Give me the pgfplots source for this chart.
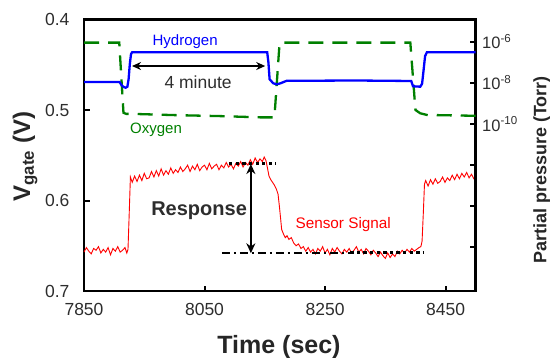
\documentclass[border=0pt]{standalone}
\usepackage{pgfplots}
\pgfplotsset{compat=1.18}
\usepackage{fontspec}
\setmainfont{Liberation Sans}
\usetikzlibrary{arrows.meta}
\definecolor{hblue}{RGB}{0,0,255}
\definecolor{ogreen}{RGB}{0,128,0}
\definecolor{sred}{RGB}{255,0,0}
\definecolor{tt}{RGB}{45,45,45}
\begin{document}
\begin{tikzpicture}
\useasboundingbox (0,0) rectangle (554pt,358pt);
\begin{axis}[
  at={(84pt,67pt)}, anchor=south west,
  scale only axis, width=391.7pt, height=271.5pt,
  xmin=7850, xmax=8500, ymin=0.4, ymax=0.7, y dir=reverse,
  xtick={7850,8050,8250,8450}, ytick={0.4,0.5,0.6,0.7},
  xtick pos=bottom, ytick pos=left, tick align=inside,
  major tick length=5.5pt,
  every tick/.style={black, line width=2pt},
  axis line style={line width=2.7pt},
  /pgf/number format/1000 sep={},
  /pgf/number format/assume math mode=true,
  xticklabel style={font=\fontsize{17.5}{18}\selectfont, text=tt, yshift=-9pt},
  yticklabel style={font=\fontsize{17.5}{18}\selectfont, text=tt, xshift=-11pt,
    /pgf/number format/fixed, /pgf/number format/fixed zerofill, /pgf/number format/precision=1},
  xlabel={Time (sec)},
  every axis x label/.style={at={(axis description cs:0.4978,-0.2284)}, anchor=base,
    font=\fontsize{25}{26}\selectfont\bfseries, text=black!85},
  ylabel={V\textsubscript{gate} (V)},
  every axis y label/.style={at={(axis description cs:-0.1506,0.4954)}, rotate=90, anchor=center,
    font=\fontsize{24}{25}\selectfont\bfseries, text=black!85},
  clip=false,
]
\addplot[sred, line width=0.9pt] coordinates {
(7850,0.657) (7854,0.652) (7858,0.656) (7862,0.659) (7866,0.653) (7870,0.655) (7874,0.651) (7878,0.658)
(7882,0.654) (7886,0.657) (7890,0.652) (7894,0.660) (7898,0.653) (7902,0.656) (7906,0.651) (7910,0.657)
(7914,0.655) (7918,0.652) (7921,0.658) (7923,0.654) (7925,0.615) (7927,0.574)
(7930,0.580) (7934,0.573) (7938,0.579) (7942,0.572) (7946,0.578) (7950,0.570) (7954,0.576) (7958,0.575)
(7962,0.568) (7966,0.574) (7970,0.567) (7974,0.573) (7978,0.565) (7982,0.572) (7986,0.567) (7990,0.571)
(7994,0.564) (7998,0.570) (8002,0.566) (8006,0.569) (8010,0.563) (8014,0.568) (8018,0.565) (8022,0.561)
(8026,0.568) (8030,0.562) (8034,0.566) (8038,0.560) (8042,0.567) (8046,0.563) (8050,0.561) (8054,0.566)
(8058,0.559) (8062,0.565) (8066,0.562) (8070,0.560) (8074,0.566) (8078,0.561) (8082,0.564) (8086,0.558)
(8090,0.563) (8094,0.560) (8098,0.565) (8102,0.559) (8106,0.562) (8110,0.557) (8114,0.563) (8118,0.558)
(8122,0.561) (8126,0.555) (8130,0.560) (8134,0.553) (8138,0.558) (8142,0.554) (8146,0.557) (8149,0.552)
(8152,0.556) (8155,0.566) (8157,0.573) (8160,0.577) (8163,0.580) (8166,0.583) (8169,0.587) (8172,0.593)
(8174,0.605) (8176,0.618) (8178,0.632) (8181,0.637) (8184,0.641) (8187,0.639) (8190,0.643) (8194,0.641)
(8198,0.647) (8202,0.650) (8206,0.648) (8210,0.653) (8214,0.651)
(8218,0.656) (8222,0.652) (8226,0.657) (8230,0.654) (8234,0.659) (8238,0.653) (8242,0.656) (8246,0.651)
(8250,0.658) (8254,0.654) (8258,0.660) (8262,0.653) (8266,0.657) (8270,0.652) (8274,0.656) (8278,0.659)
(8282,0.654) (8286,0.657) (8290,0.653) (8294,0.658) (8298,0.655) (8302,0.651) (8306,0.657) (8310,0.654)
(8314,0.659) (8318,0.653) (8322,0.656) (8326,0.660) (8330,0.655) (8334,0.658) (8338,0.662) (8342,0.657)
(8346,0.661) (8350,0.664) (8354,0.658) (8358,0.663) (8362,0.659) (8366,0.662) (8370,0.656) (8374,0.659)
(8378,0.655) (8382,0.658) (8386,0.654) (8390,0.657) (8394,0.653) (8398,0.656) (8402,0.654) (8406,0.652)
(8409,0.651) (8411,0.645) (8413,0.615) (8415,0.582) (8417,0.578) (8421,0.584) (8425,0.577) (8429,0.582)
(8433,0.576) (8437,0.581) (8441,0.579) (8445,0.574) (8449,0.580) (8453,0.575) (8457,0.578) (8461,0.572)
(8465,0.577) (8469,0.571) (8473,0.576) (8477,0.570) (8481,0.574) (8485,0.569) (8489,0.575) (8493,0.571)
(8497,0.576) (8500,0.574)
};
% annotations
\draw[{Stealth[length=9pt,width=8pt]}-{Stealth[length=9pt,width=8pt]}, line width=1.8pt, black]
  (axis cs:7929.7,0.4514) -- (axis cs:8150.7,0.4514);
\node[font=\fontsize{17.5}{18}\selectfont, text=tt] at (axis cs:8039.4,0.4691) {4 minute};
\node[font=\fontsize{15}{16}\selectfont, text=hblue] at (axis cs:8017.8,0.4249) {Hydrogen};
\node[font=\fontsize{15}{16}\selectfont, text=ogreen] at (axis cs:7969.6,0.5221) {Oxygen};
\node[font=\fontsize{15.3}{16}\selectfont, text=sred] at (axis cs:8280.2,0.6271) {Sensor Signal};
\node[font=\fontsize{20}{21}\selectfont\bfseries, text=tt] at (axis cs:8041,0.6110) {Response};
\draw[{Stealth[length=10pt,width=9pt]}-{Stealth[length=10pt,width=9pt]}, line width=2.5pt, black]
  (axis cs:8126.9,0.5597) -- (axis cs:8126.9,0.6583);
\draw[line width=3.3pt, dash pattern=on 3.3pt off 3.3pt, black]
  (axis cs:8090.9,0.5589) -- (axis cs:8169,0.5589);
\draw[line width=2pt, dash pattern=on 8pt off 4pt on 2pt off 4pt, black]
  (axis cs:8078.7,0.6575) -- (axis cs:8291.8,0.6575);
\draw[line width=3.3pt, dash pattern=on 3.3pt off 3.3pt, black]
  (axis cs:8291.8,0.6575) -- (axis cs:8413,0.6575);
\end{axis}
\begin{axis}[
  at={(84pt,67pt)}, anchor=south west,
  scale only axis, width=391.7pt, height=271.5pt,
  xmin=7850, xmax=8500, ymode=log, ymin=7.6e-19, ymax=1.2e-5,
  axis x line=none, axis y line*=right,
  ytick={1e-6,1e-8,1e-10,1e-12,1e-14,1e-16},
  yticklabels={10\textsuperscript{-6},10\textsuperscript{-8},10\textsuperscript{-10},,,},
  yminorticks=false, tick align=inside, major tick length=5.5pt,
  every tick/.style={black, line width=2pt},
  axis line style={line width=2.7pt},
  yticklabel style={font=\fontsize{16.5}{17}\selectfont, text=tt, xshift=3pt},
  ylabel={Partial pressure (Torr)},
  every axis y label/.style={at={(axis description cs:1.1685,0.4457)}, rotate=90, anchor=center,
    font=\fontsize{18}{19}\selectfont\bfseries, text=black!85},
  clip=false,
]
\addplot[ogreen, line width=2.3pt, dash pattern=on 15pt off 9pt] coordinates {
(7850,9e-7) (7908.5,9e-7) (7915.5,3.5e-10) (7920,3.1e-10) (7930,3.1e-10) (8000,2.7e-10) (8080,2.4e-10)
(8142,2.1e-10) (8166,2.1e-10) (8174.5,8.5e-7) (8180,9e-7) (8391.5,9e-7) (8400,4.8e-10) (8408,3.3e-10)
(8419,2.75e-10) (8500,2.5e-10)
};
\addplot[hblue, line width=2.3pt] coordinates {
(7850,1.1e-8) (7909,1.1e-8) (7912,8e-9) (7916,6.2e-9) (7919,5.8e-9) (7922,6.5e-9) (7924,1.5e-8)
(7926,8e-8) (7928,2.5e-7) (7930,3.1e-7) (8154,3.1e-7) (8156,1e-7) (8158,1.5e-8) (8164,9.5e-9)
(8170,8.5e-9) (8176,9.5e-9) (8186,1.25e-8) (8300,1.3e-8) (8393,1.23e-8) (8396,6.8e-9) (8408,6.5e-9)
(8411,9e-9) (8413,3e-8) (8416,2e-7) (8419,3.06e-7) (8500,3.06e-7)
};
\end{axis}
\end{tikzpicture}
\end{document}
